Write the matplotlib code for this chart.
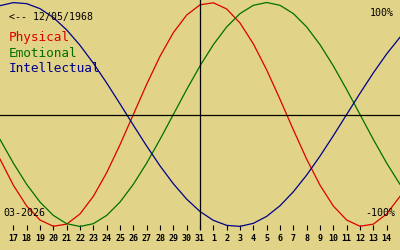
import matplotlib
matplotlib.use("Agg")
import matplotlib.pyplot as plt

# day offsets relative to the marked day (31 Mar 2026)
day_offsets = list(range(-15, 16))
physical = [-0.3984, -0.6310, -0.8170, -0.9423, -0.9977, -0.9791, -0.8879, -0.7308,
            -0.5196, -0.2698, 0.0, 0.2698, 0.5196, 0.7308, 0.8879, 0.9791,
            0.9977, 0.9423, 0.8170, 0.6310, 0.3984, 0.1362, -0.1362, -0.3984,
            -0.6310, -0.8170, -0.9423, -0.9977, -0.9791, -0.8879, -0.7308]
emotional = [-0.2225, -0.4339, -0.6235, -0.7818, -0.9010, -0.9749, -1.0, -0.9749,
             -0.9010, -0.7818, -0.6235, -0.4339, -0.2225, 0.0, 0.2225, 0.4339,
             0.6235, 0.7818, 0.9010, 0.9749, 1.0, 0.9749, 0.9010, 0.7818,
             0.6235, 0.4339, 0.2225, 0.0, -0.2225, -0.4339, -0.6235]
intellectual = [0.9718, 0.9989, 0.9898, 0.9450, 0.8660, 0.7557, 0.6182, 0.4582,
                0.2817, 0.0951, -0.0951, -0.2817, -0.4582, -0.6182, -0.7557, -0.8660,
                -0.9450, -0.9898, -0.9989, -0.9718, -0.9096, -0.8146, -0.6901, -0.5406,
                -0.3717, -0.1893, 0.0, 0.1893, 0.3717, 0.5406, 0.6901]
tick_offsets = list(range(-14, 15))
tick_labels = [str(d) for d in range(17, 32)] + [str(d) for d in range(1, 15)]
series_names = ["Physical", "Emotional", "Intellectual"]
series_colors = ["#dd0000", "#007000", "#00008c"]

bg = "#e1d387"
mono = "DejaVu Sans Mono"

fig = plt.figure(figsize=(4, 2.5), dpi=100, facecolor=bg)
ax = fig.add_axes([0, 20 / 250, 1, 230 / 250])
ax.set_facecolor(bg)
for s in ax.spines.values():
    s.set_visible(False)

for vals, c in zip([physical, emotional, intellectual], series_colors):
    ax.plot(day_offsets, vals, color=c, lw=0.9, antialiased=True)

ax.axhline(0, color="black", lw=0.9)
ax.axvline(0, color="black", lw=0.9)

ax.set_xlim(-15, 15)
ax.set_ylim((114.5 - 230) / 112, 114.5 / 112)
ax.set_yticks([])
ax.set_xticks(tick_offsets)
ax.set_xticklabels(tick_labels, fontfamily=mono, fontsize=6, fontweight="bold")
ax.tick_params(axis="x", direction="in", length=3.6, width=0.8, pad=3, colors="black")

def px(x, y):
    return x / 400, 1 - y / 250

fig.text(*px(9, 16.5), "<-- 12/05/1968", fontfamily=mono, fontsize=7.1,
         va="center", ha="left", color="black")
for i, (name, c) in enumerate(zip(series_names, series_colors)):
    fig.text(*px(9, 38 + 15.3 * i), name, fontfamily=mono, fontsize=9.2,
             va="center", ha="left", color=c)
fig.text(*px(394, 12.5), "100%", fontfamily=mono, fontsize=7.2, va="center", ha="right")
fig.text(*px(395, 212.5), "-100%", fontfamily=mono, fontsize=7.2, va="center", ha="right")
fig.text(*px(3, 212.5), "03-2026", fontfamily=mono, fontsize=7.2, va="center", ha="left")

fig.savefig("out.png", dpi=100, facecolor=bg)
